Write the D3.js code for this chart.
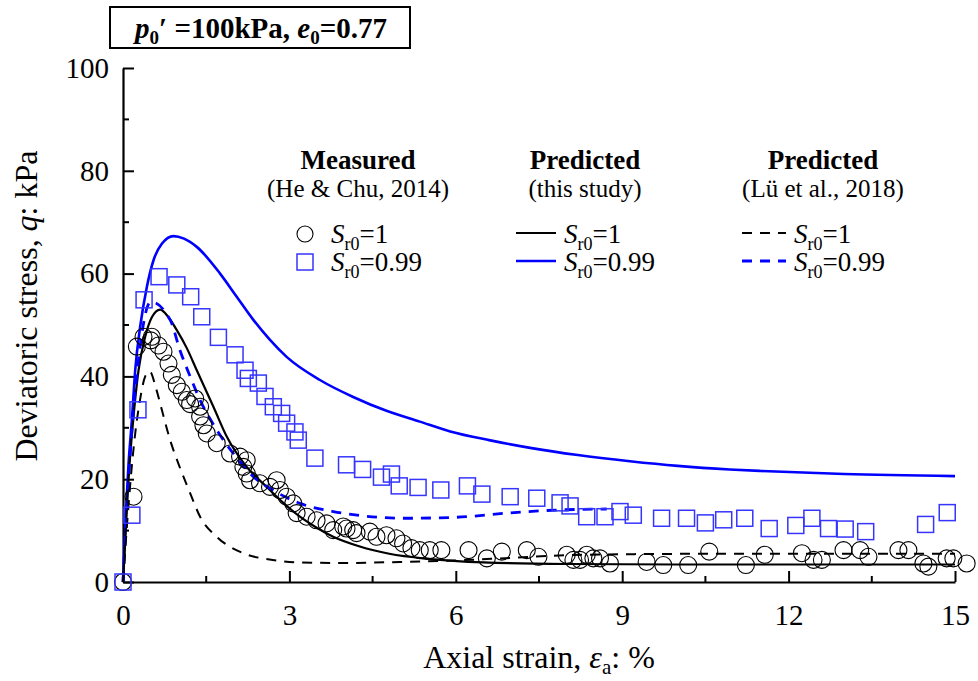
<!DOCTYPE html>
<html><head><meta charset="utf-8">
<script src="https://cdn.jsdelivr.net/npm/d3@7/dist/d3.min.js"></script>
<style>body{margin:0;background:#fff}svg{display:block;font-family:"Liberation Serif","Times New Roman",serif}</style>
</head><body><svg id="c" width="978" height="681"></svg>
<script>
const xTicks=[0,3,6,9,12,15];
const yTicks=[0,20,40,60,80,100];
const measuredSr1=[[0,0],[0.19,16.6],[0.25,45.8],[0.37,47.7],[0.52,47.7],[0.5,47],[0.64,46],[0.73,44.8],[0.82,42.5],[0.88,40.3],[0.97,38.3],[1.06,37],[1.15,35.4],[1.21,34.6],[1.3,35.7],[1.39,34.1],[1.39,32.2],[1.45,30.5],[1.51,28.9],[1.69,27],[1.93,25],[2.11,24.4],[2.23,23.7],[2.17,22.4],[2.23,21.1],[2.29,19.8],[2.47,19.2],[2.65,18.5],[2.77,19.8],[2.83,17.9],[2.95,16.6],[3.07,15.3],[3.13,13.4],[3.31,12.7],[3.49,12],[3.67,11.4],[3.79,10.1],[3.97,10.8],[4.15,10.1],[4.03,10.4],[4.21,9.5],[4.45,9.8],[4.57,8.8],[4.75,9.1],[4.93,8.5],[5.05,7.5],[5.2,6.6],[5.35,6.2],[5.53,6.2],[5.74,6.2],[6.23,6.2],[6.56,4.6],[6.83,5.9],[7.28,6.2],[7.49,4.9],[8.0,5.3],[8.12,4.3],[8.24,4.3],[8.36,5.3],[8.48,4.6],[8.6,4.6],[8.78,3.6],[9.44,3.9],[9.74,3.3],[10.19,3.3],[10.57,5.9],[11.23,3.3],[11.57,5.3],[12.24,5.6],[12.45,4.3],[12.6,4.3],[12.99,6.2],[13.29,6.2],[13.44,4.9],[13.98,6.2],[14.16,6.2],[14.43,3.6],[14.52,3.0],[14.85,4.6],[14.97,4.6],[15.21,3.6]];
const measuredSr099=[[0,0],[0.16,13],[0.27,33.5],[0.38,54.9],[0.65,59.4],[0.97,57.8],[1.22,55.5],[1.42,51.6],[1.72,47.6],[2.02,44.2],[2.2,41.2],[2.26,39.6],[2.44,38.7],[2.56,36.1],[2.71,34.1],[2.86,32.8],[2.95,30.9],[3.1,29.2],[3.16,27.6],[3.46,24.1],[4.03,22.8],[4.32,21.9],[4.66,20.4],[4.84,21],[4.98,18.7],[5.32,18.4],[5.73,17.9],[6.21,18.7],[6.47,17.1],[6.98,16.6],[7.46,16.3],[7.88,15.4],[8.06,14.8],[8.36,12.7],[8.69,12.7],[8.96,13.7],[9.2,13],[9.71,12.4],[10.16,12.4],[10.5,11.5],[10.83,12.1],[11.21,12.4],[11.65,10.4],[12.13,11],[12.42,12.4],[12.72,10.4],[13.02,10.3],[13.39,9.8],[14.47,11.2],[14.86,13.5]];
const thisStudySr1=[[0,0],[0.05,10],[0.1,20],[0.18,31],[0.28,41.2],[0.4,47.7],[0.52,51.5],[0.67,53],[0.82,51.5],[0.97,49],[1.15,45.5],[1.33,41.2],[1.63,34.1],[1.87,28.3],[2.2,22.8],[2.59,18.5],[2.9,15.3],[3.19,12.7],[3.5,10.5],[3.79,8.8],[4.27,6.9],[4.8,5.5],[5.5,4.5],[6.5,3.8],[8,3.5],[10,3.4],[12,3.4],[15,3.4]];
const thisStudySr099=[[0,0],[0.05,13],[0.1,23],[0.16,31.5],[0.22,41.2],[0.31,49.7],[0.43,57.4],[0.55,62.6],[0.7,65.8],[0.91,67.3],[1.1,66.8],[1.33,65.2],[1.75,60],[2.05,55.5],[2.35,51],[2.65,47.1],[2.95,43.8],[3.55,39.3],[4.15,36],[4.75,33.3],[5.35,31.2],[5.9,29.3],[6.6,27.6],[7.34,26.1],[8.2,24.7],[9.14,23.5],[10,22.6],[10.94,21.9],[11.5,21.6],[13,21],[15,20.6]];
const luSr1=[[0,0],[0.1,15],[0.2,27],[0.3,35],[0.4,40],[0.48,41],[0.6,37.5],[0.7,33.5],[0.85,27.6],[1,23],[1.21,17.3],[1.39,12.7],[1.69,8.8],[2.17,5.6],[2.7,4.3],[3.2,3.8],[4,3.7],[5,3.9],[6,4.2],[7,4.7],[8,5.2],[9,5.4],[11,5.5],[13,5.5],[15,5.5]];
const luSr099=[[0,0],[0.1,20],[0.2,35],[0.3,45],[0.4,52],[0.5,54.5],[0.85,51],[1.03,45],[1.21,40],[1.39,35.4],[1.69,29.6],[1.99,25],[2.35,20.5],[2.7,17.9],[3.19,15.3],[3.79,13.7],[4.22,13],[5.11,12.4],[6.02,12.6],[6.92,13.4],[7.82,14],[8.72,14.2]];

const svg=d3.select("#c");
const x=d3.scaleLinear().domain([0,15]).range([123,955]);
const y=d3.scaleLinear().domain([0,100]).range([582,68]);
const BLUE="#0000ff", SQ="#3535ff";

// axes
const ax=svg.append("g").attr("transform","translate(0,582)")
  .call(d3.axisBottom(x).tickValues(xTicks).tickSize(-11).tickSizeOuter(0).tickPadding(22).tickFormat(d3.format("d")));
const ay=svg.append("g").attr("transform","translate(123,0)")
  .call(d3.axisLeft(y).tickValues(yTicks).tickSize(-11).tickSizeOuter(0).tickPadding(14));
[ax,ay].forEach(g=>{g.select(".domain").attr("stroke","#000").attr("stroke-width",2.2);
  g.selectAll(".tick line").attr("stroke","#000").attr("stroke-width",2);
  g.selectAll(".tick text").attr("font-size",29).attr("fill","#000").attr("font-family","Liberation Serif");});
svg.append("g").selectAll("line").data(d3.range(1.5,15,3)).join("line")
  .attr("x1",d=>x(d)).attr("x2",d=>x(d)).attr("y1",582).attr("y2",576).attr("stroke","#000").attr("stroke-width",2);
svg.append("g").selectAll("line").data(d3.range(10,100,20)).join("line")
  .attr("y1",d=>y(d)).attr("y2",d=>y(d)).attr("x1",123).attr("x2",129).attr("stroke","#000").attr("stroke-width",2);

// lines
const line=d3.line().x(d=>x(d[0])).y(d=>y(d[1])).curve(d3.curveMonotoneX);
svg.append("path").attr("d",line(thisStudySr099)).attr("fill","none").attr("stroke",BLUE).attr("stroke-width",2.6);
svg.append("path").attr("d",line(thisStudySr1)).attr("fill","none").attr("stroke","#000").attr("stroke-width",2.2);
svg.append("path").attr("d",line(luSr099)).attr("fill","none").attr("stroke",BLUE).attr("stroke-width",2.8).attr("stroke-dasharray","10,8");
svg.append("path").attr("d",line(luSr1)).attr("fill","none").attr("stroke","#000").attr("stroke-width",2).attr("stroke-dasharray","10,8");

// markers
svg.append("g").selectAll("circle").data(measuredSr1).join("circle")
  .attr("cx",d=>x(d[0])).attr("cy",d=>y(d[1])).attr("r",8.5).attr("fill","none").attr("stroke","#000").attr("stroke-width",1.1);
svg.append("g").selectAll("rect").data(measuredSr099).join("rect")
  .attr("x",d=>x(d[0])-8).attr("y",d=>y(d[1])-8).attr("width",16).attr("height",16).attr("fill","none").attr("stroke",SQ).attr("stroke-width",1.5);

// axis titles
const xt=svg.append("text").attr("x",539).attr("y",668).attr("text-anchor","middle").attr("font-size",32);
xt.append("tspan").text("Axial strain, ");
xt.append("tspan").attr("font-style","italic").text("ε");
xt.append("tspan").attr("font-size",21).attr("dy",6).text("a");
xt.append("tspan").attr("dy",-6).text(": %");
const yt=svg.append("text").attr("transform","translate(37,306) rotate(-90)").attr("text-anchor","middle").attr("font-size",32);
yt.append("tspan").text("Deviatoric stress, ");
yt.append("tspan").attr("font-style","italic").text("q");
yt.append("tspan").text(": kPa");

// title box
svg.append("rect").attr("x",110).attr("y",7).attr("width",300).attr("height",41).attr("fill","#fff").attr("stroke","#000").attr("stroke-width",2);
const tt=svg.append("text").attr("x",261).attr("y",38).attr("text-anchor","middle").attr("font-size",29).attr("font-weight","bold");
tt.append("tspan").attr("font-style","italic").text("p");
tt.append("tspan").attr("font-size",19).attr("dy",6).text("0");
tt.append("tspan").attr("dy",-6).text("′ =100kPa, ");
tt.append("tspan").attr("font-style","italic").text("e");
tt.append("tspan").attr("font-size",19).attr("dy",6).text("0");
tt.append("tspan").attr("dy",-6).text("=0.77");

// legend
function head(cx,a,b){
  svg.append("text").attr("x",cx).attr("y",169).attr("text-anchor","middle").attr("font-size",27).attr("font-weight","bold").text(a);
  svg.append("text").attr("x",cx).attr("y",197).attr("text-anchor","middle").attr("font-size",25).text(b);
}
head(358,"Measured","(He & Chu, 2014)");
head(585,"Predicted","(this study)");
head(823,"Predicted","(Lü et al., 2018)");
function lab(x0,yb,val){
  const t=svg.append("text").attr("x",x0).attr("y",yb).attr("font-size",27);
  t.append("tspan").attr("font-style","italic").text("S");
  t.append("tspan").attr("font-size",18).attr("dy",7).text("r0");
  t.append("tspan").attr("dy",-7).text("="+val);
}
svg.append("circle").attr("cx",305).attr("cy",234).attr("r",8).attr("fill","none").attr("stroke","#000").attr("stroke-width",1.1);
svg.append("rect").attr("x",297).attr("y",254).attr("width",16).attr("height",16).attr("fill","none").attr("stroke",SQ).attr("stroke-width",1.5);
lab(331,243,"1"); lab(331,271,"0.99");
svg.append("line").attr("x1",516).attr("x2",556).attr("y1",233).attr("y2",233).attr("stroke","#000").attr("stroke-width",2.2);
svg.append("line").attr("x1",516).attr("x2",556).attr("y1",261).attr("y2",261).attr("stroke",BLUE).attr("stroke-width",2.6);
lab(564,243,"1"); lab(564,271,"0.99");
svg.append("line").attr("x1",742).attr("x2",786).attr("y1",233).attr("y2",233).attr("stroke","#000").attr("stroke-width",2).attr("stroke-dasharray","10,8");
svg.append("line").attr("x1",742).attr("x2",786).attr("y1",261).attr("y2",261).attr("stroke",BLUE).attr("stroke-width",2.8).attr("stroke-dasharray","10,8");
lab(794,243,"1"); lab(794,271,"0.99");
</script></body></html>
